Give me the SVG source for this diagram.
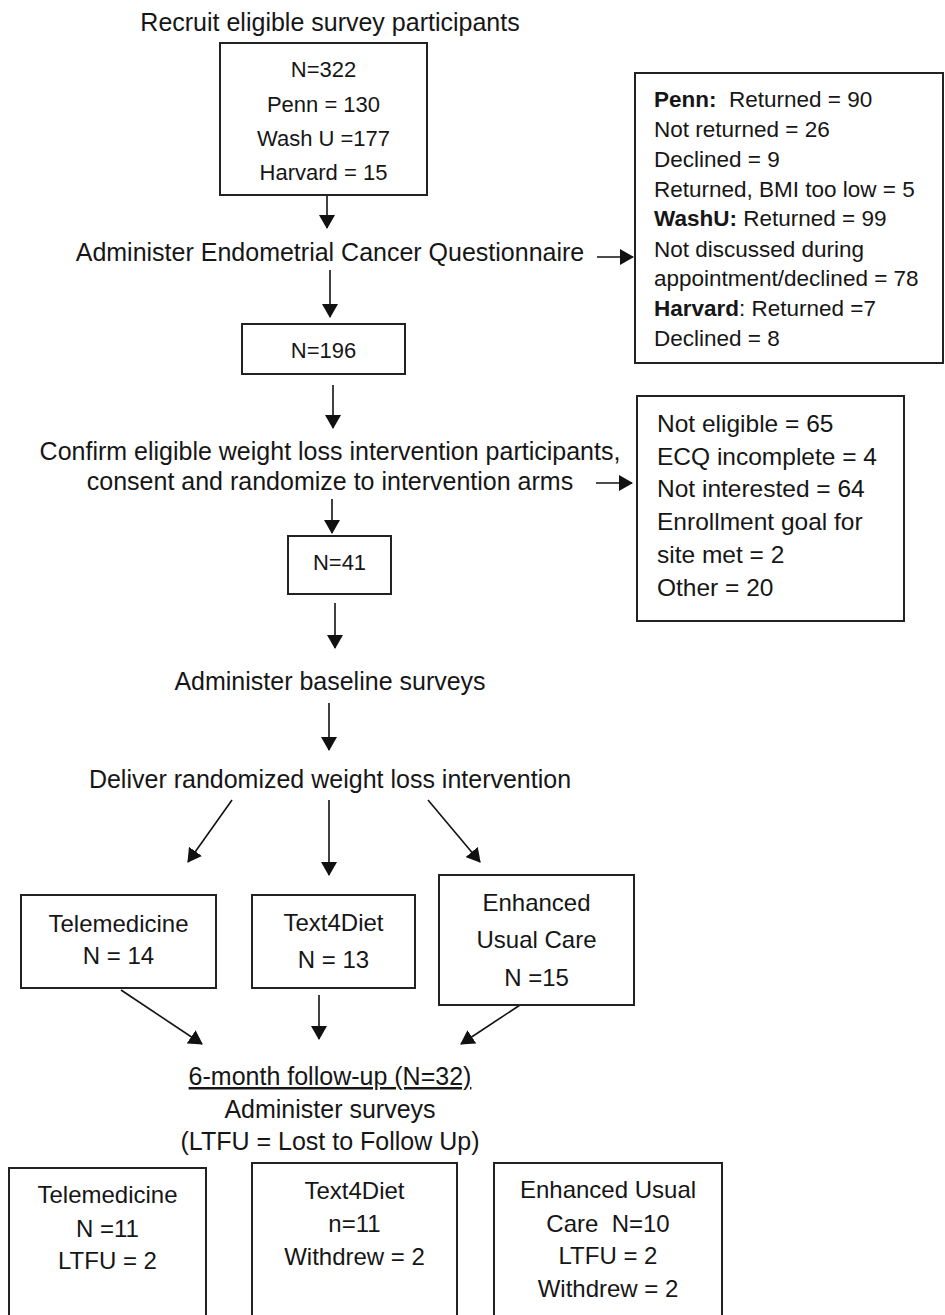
<svg xmlns="http://www.w3.org/2000/svg" width="945" height="1315" viewBox="0 0 945 1315">
<style>
text{font-family:"Liberation Sans",Arial,sans-serif;font-size:25px;fill:#161616;white-space:pre}
.c{text-anchor:middle}
.s22{font-size:22px}
.s225{font-size:22.5px}
.s24{font-size:24px}
.s245{font-size:24.5px}
.box{fill:#fff;stroke:#222;stroke-width:2}
.ln{stroke:#111;stroke-width:1.6;fill:none;marker-end:url(#ah)}
.b{font-weight:bold}
</style>
<defs>
<marker id="ah" markerUnits="userSpaceOnUse" markerWidth="14" markerHeight="16" viewBox="0 0 14 16" refX="13" refY="8" orient="auto">
<path d="M0,0 L14,8 L0,16 z" fill="#111"/>
</marker>
</defs>
<rect width="945" height="1315" fill="#fff"/>

<g id="connectors">
<line class="ln" x1="327" y1="195" x2="327" y2="228"/>
<line class="ln" x1="597" y1="257" x2="633" y2="257"/>
<line class="ln" x1="330" y1="270" x2="330" y2="317"/>
<line class="ln" x1="333" y1="385" x2="333" y2="428"/>
<line class="ln" x1="596" y1="483" x2="632" y2="483"/>
<line class="ln" x1="332" y1="499" x2="332" y2="533"/>
<line class="ln" x1="335" y1="603" x2="335" y2="648"/>
<line class="ln" x1="329" y1="703" x2="329" y2="750"/>
<line class="ln" x1="232" y1="800" x2="188" y2="862"/>
<line class="ln" x1="329" y1="800" x2="329" y2="875"/>
<line class="ln" x1="428" y1="800" x2="480" y2="862"/>
<line class="ln" x1="121" y1="990" x2="202" y2="1044"/>
<line class="ln" x1="319" y1="995" x2="319" y2="1039"/>
<line class="ln" x1="520" y1="1005" x2="461" y2="1044"/>
</g>

<g id="recruit">
<text class="c" x="330" y="31">Recruit eligible survey participants</text>
</g>
<g id="n322">
<rect class="box" x="220" y="43" width="207" height="152"/>
<text class="c s22" x="323.5" y="77">N=322</text>
<text class="c s22" x="323.5" y="112">Penn = 130</text>
<text class="c s22" x="323.5" y="146">Wash U =177</text>
<text class="c s22" x="323.5" y="180">Harvard = 15</text>
</g>
<g id="ecq">
<text class="c" x="330" y="261">Administer Endometrial Cancer Questionnaire</text>
</g>
<g id="excl1">
<rect class="box" x="635" y="73" width="308" height="290"/>
<text class="s225" x="654" y="107"><tspan class="b">Penn:</tspan>  Returned = 90</text>
<text class="s225" x="654" y="137">Not returned = 26</text>
<text class="s225" x="654" y="167">Declined = 9</text>
<text class="s225" x="654" y="197">Returned, BMI too low = 5</text>
<text class="s225" x="654" y="226"><tspan class="b">WashU:</tspan> Returned = 99</text>
<text class="s225" x="654" y="257">Not discussed during</text>
<text class="s225" x="654" y="286">appointment/declined = 78</text>
<text class="s225" x="654" y="316"><tspan class="b">Harvard</tspan>: Returned =7</text>
<text class="s225" x="654" y="346">Declined = 8</text>
</g>
<g id="n196">
<rect class="box" x="242" y="324" width="163" height="50"/>
<text class="c s22" x="323.5" y="358">N=196</text>
</g>
<g id="confirm">
<text class="c" x="330" y="460">Confirm eligible weight loss intervention participants,</text>
<text class="c" x="330" y="490">consent and randomize to intervention arms</text>
</g>
<g id="excl2">
<rect class="box" x="637" y="396" width="267" height="225"/>
<text class="s245" x="657" y="432">Not eligible = 65</text>
<text class="s245" x="657" y="465">ECQ incomplete = 4</text>
<text class="s245" x="657" y="497">Not interested = 64</text>
<text class="s245" x="657" y="530">Enrollment goal for</text>
<text class="s245" x="657" y="563">site met = 2</text>
<text class="s245" x="657" y="596">Other = 20</text>
</g>
<g id="n41">
<rect class="box" x="288" y="536" width="103" height="58"/>
<text class="c s22" x="339.5" y="570">N=41</text>
</g>
<g id="baseline">
<text class="c" x="330" y="690">Administer baseline surveys</text>
</g>
<g id="deliver">
<text class="c" x="330" y="788">Deliver randomized weight loss intervention</text>
</g>
<g id="tele1">
<rect class="box" x="21" y="895" width="195" height="93"/>
<text class="c s24" x="118.5" y="932">Telemedicine</text>
<text class="c s24" x="118.5" y="964">N = 14</text>
</g>
<g id="t4d1">
<rect class="box" x="252" y="895" width="163" height="93"/>
<text class="c s24" x="333.5" y="931">Text4Diet</text>
<text class="c s24" x="333.5" y="968">N = 13</text>
</g>
<g id="euc1">
<rect class="box" x="439" y="875" width="195" height="130"/>
<text class="c s24" x="536.5" y="911">Enhanced</text>
<text class="c s24" x="536.5" y="948">Usual Care</text>
<text class="c s24" x="536.5" y="986">N =15</text>
</g>
<g id="followup">
<text class="c" x="330" y="1085" text-decoration="underline">6-month follow-up (N=32)</text>
<text class="c" x="330" y="1118">Administer surveys</text>
<text class="c" x="330" y="1150">(LTFU = Lost to Follow Up)</text>
</g>
<g id="tele2">
<rect class="box" x="9" y="1168" width="197" height="170"/>
<text class="c s24" x="107.5" y="1203">Telemedicine</text>
<text class="c s24" x="107.5" y="1237">N =11</text>
<text class="c s24" x="107.5" y="1269">LTFU = 2</text>
</g>
<g id="t4d2">
<rect class="box" x="252" y="1163" width="205" height="175"/>
<text class="c s24" x="354.5" y="1199">Text4Diet</text>
<text class="c s24" x="354.5" y="1232">n=11</text>
<text class="c s24" x="354.5" y="1265">Withdrew = 2</text>
</g>
<g id="euc2">
<rect class="box" x="494" y="1163" width="228" height="175"/>
<text class="c s24" x="608" y="1198">Enhanced Usual</text>
<text class="c s24" x="608" y="1232">Care  N=10</text>
<text class="c s24" x="608" y="1264">LTFU = 2</text>
<text class="c s24" x="608" y="1297">Withdrew = 2</text>
</g>
</svg>
